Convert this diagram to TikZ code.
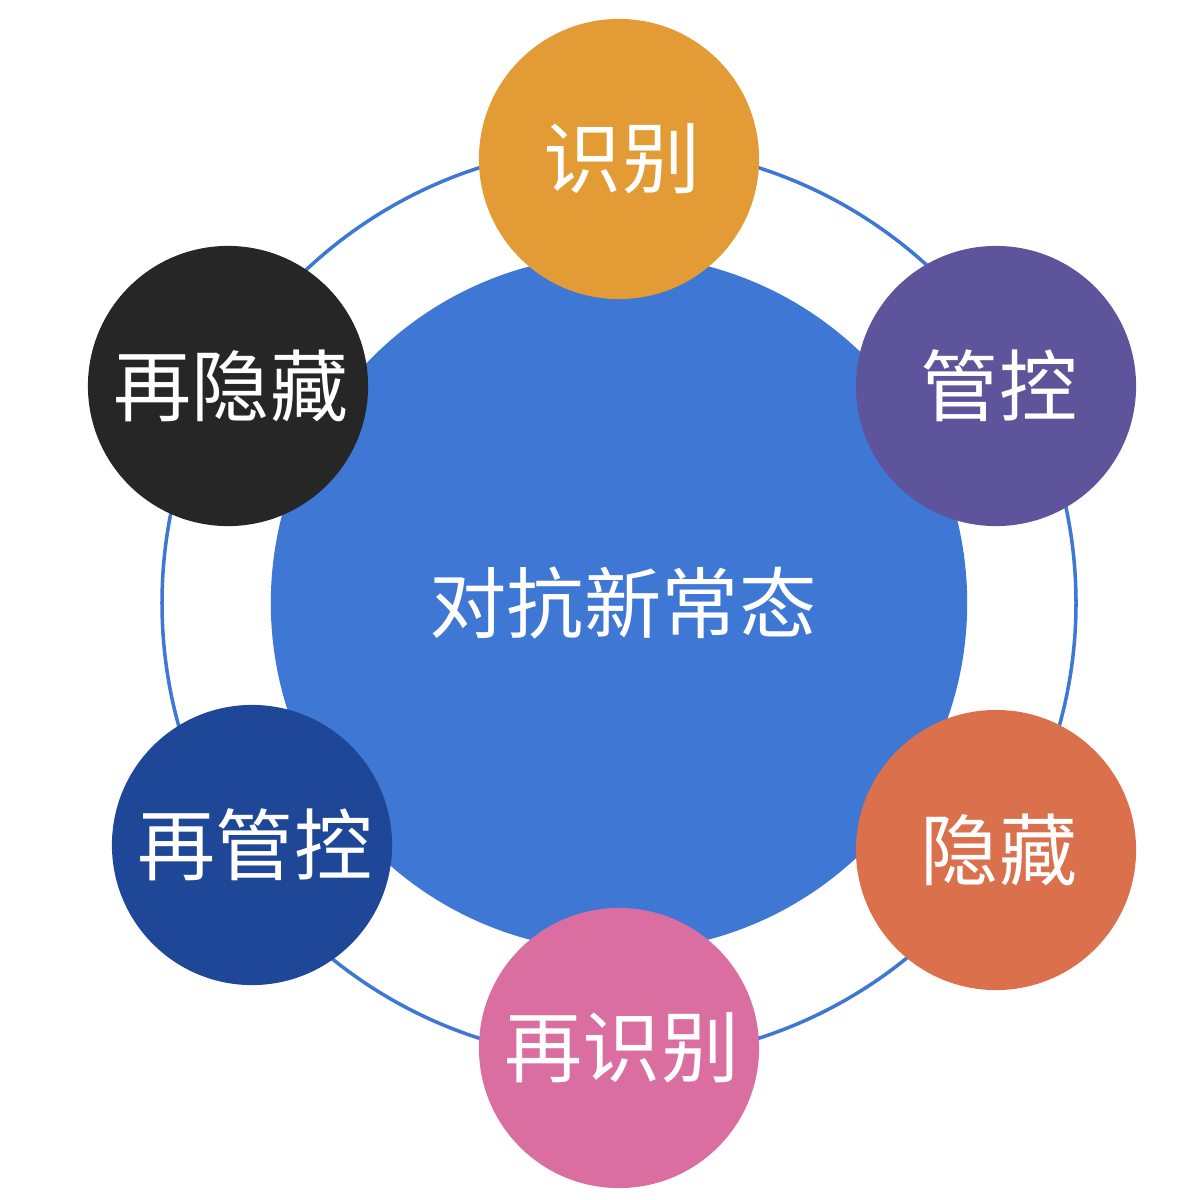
\documentclass[tikz,border=0pt]{standalone}
\usepackage{fontspec}
\newfontfamily\cjk{Noto Sans CJK SC}
\definecolor{cblue}{HTML}{3F77D4}
\definecolor{corange}{HTML}{E39B35}
\definecolor{cpurple}{HTML}{5E549B}
\definecolor{cred}{HTML}{DB704D}
\definecolor{cpink}{HTML}{DA6EA0}
\definecolor{cnavy}{HTML}{1F4797}
\definecolor{cblack}{HTML}{262626}
\tikzset{
  sat/.style={circle, minimum size=2.8cm, inner sep=0pt, text=white},
  sattext/.style={font=\cjk\fontsize{22.2pt}{24pt}\selectfont, text=white, inner sep=0pt},
  hub/.style={circle, fill=cblue, minimum size=6.96cm, inner sep=0pt},
  hubtext/.style={font=\cjk\fontsize{22pt}{24pt}\selectfont, text=white, inner sep=0pt},
  ringline/.style={draw=cblue, line width=1pt}
}
\begin{document}
\begin{tikzpicture}[x=0.01cm,y=-0.01cm]
\useasboundingbox (0,0) rectangle (1200,1200);
\draw[ringline] (619,603) circle[radius=457];
\node[hub] (hub) at (619,603) {};
\node[hubtext] (hubt) at (623,603) {对抗新常态};
\node[sat, fill=corange] (s1) at (619,159) {};
\node[sat, fill=cpurple] (s2) at (996,386) {};
\node[sat, fill=cred] (s3) at (996,850) {};
\node[sat, fill=cpink] (s4) at (619,1048) {};
\node[sat, fill=cnavy] (s5) at (252,845) {};
\node[sat, fill=cblack] (s6) at (228,386) {};
\node[sattext] (t1) at (622,159) {识别};
\node[sattext] (t2) at (999,386) {管控};
\node[sattext] (t3) at (999,850) {隐藏};
\node[sattext] (t4) at (622,1048) {再识别};
\node[sattext] (t5) at (255,845) {再管控};
\node[sattext] (t6) at (231,386) {再隐藏};
\end{tikzpicture}
\end{document}
